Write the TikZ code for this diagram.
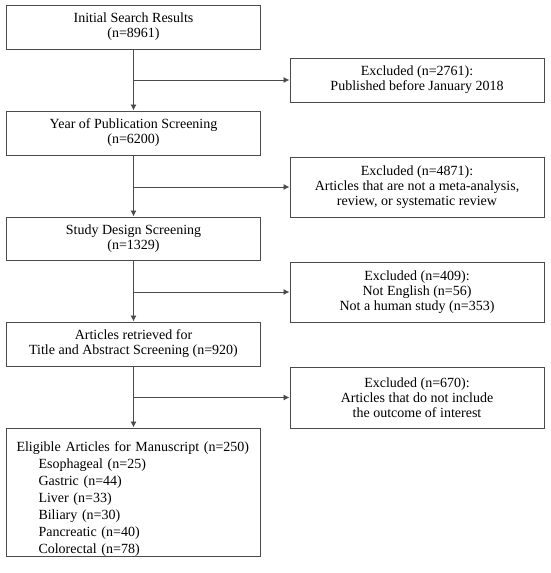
\documentclass[tikz,border=0pt]{standalone}
\usepackage{fontspec}
\setmainfont{Liberation Serif}
\usetikzlibrary{arrows.meta}
\definecolor{lc}{HTML}{4A4A4A}
\begin{document}
\begin{tikzpicture}[x=1pt,y=-1pt,
  box/.style={draw=lc,line width=1pt,rectangle,minimum width=254pt,inner sep=0pt,align=center,
    font=\fontsize{14}{15}\selectfont,text=black},
  conn/.style={draw=lc,line width=0.9pt},
  arr/.style={conn,-{Latex[length=6pt,width=6pt]}}]
\useasboundingbox (0,0) rectangle (550,573);
\node[box,minimum height=44pt] (b1) at (133.5,27) {Initial Search Results\\(n=8961)};
\node[box,minimum height=44pt] (b2) at (133.5,133) {Year of Publication Screening\\(n=6200)};
\node[box,minimum height=43pt] (b3) at (133.5,238.5) {Study Design Screening\\(n=1329)};
\node[box,minimum height=44pt] (b4) at (133.5,344) {Articles retrieved for\\Title and Abstract Screening (n=920)};
\node[box,minimum height=128pt,align=left,text width=234pt,inner xsep=10pt,
  font=\fontsize{14}{17}\selectfont] (b5) at (133.5,492) {\rule{0pt}{23pt}Eligible Articles for Manuscript (n=250)\\
  \hspace*{22pt}Esophageal (n=25)\\
  \hspace*{22pt}Gastric (n=44)\\
  \hspace*{22pt}Liver (n=33)\\
  \hspace*{22pt}Biliary (n=30)\\
  \hspace*{22pt}Pancreatic (n=40)\\
  \hspace*{22pt}Colorectal (n=78)};
\node[box,minimum height=44pt] (r1) at (417,80) {Excluded (n=2761):\\Published before January 2018};
\node[box,minimum height=60pt] (r2) at (417,187) {Excluded (n=4871):\\Articles that are not a meta-analysis,\\review, or systematic review};
\node[box,minimum height=60pt] (r3) at (417,292) {Excluded (n=409):\\Not English (n=56)\\Not a human study (n=353)};
\node[box,minimum height=61pt] (r4) at (417,397.5) {Excluded (n=670):\\Articles that do not include\\the outcome of interest};
\draw[arr] (b1) -- (b2);
\draw[arr] (b2) -- (b3);
\draw[arr] (b3) -- (b4);
\draw[arr] (b4) -- (b5);
\coordinate (j1) at (b1.south |- r1.west);
\coordinate (j2) at (b2.south |- r2.west);
\coordinate (j3) at (b3.south |- r3.west);
\coordinate (j4) at (b4.south |- r4.west);
\draw[arr] (j1) -- (r1.west);
\draw[arr] (j2) -- (r2.west);
\draw[arr] (j3) -- (r3.west);
\draw[arr] (j4) -- (r4.west);
\end{tikzpicture}
\end{document}
